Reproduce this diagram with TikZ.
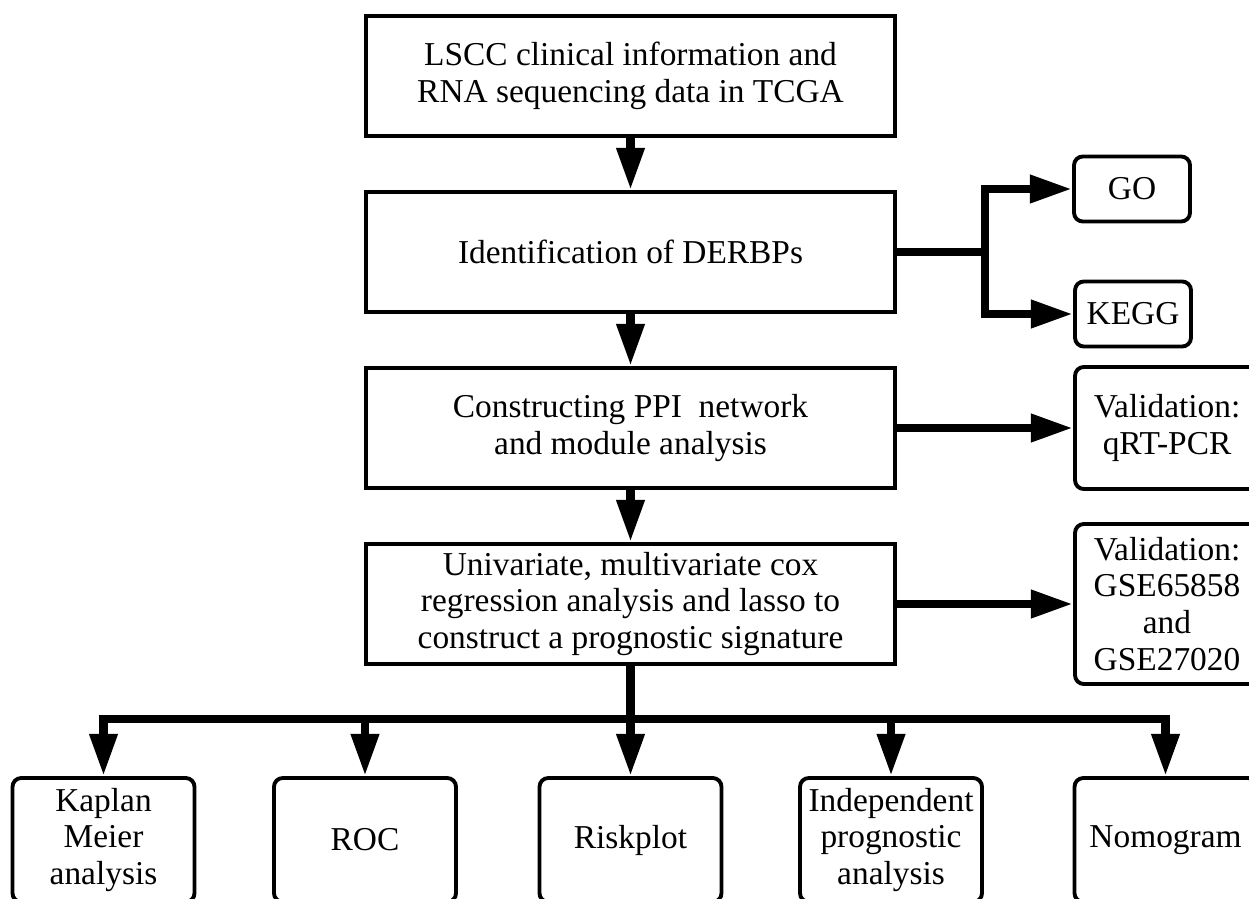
\documentclass[tikz,border=0pt]{standalone}
\usepackage{fontspec}
\setmainfont{Liberation Serif}
\usepackage{tikz}
\usetikzlibrary{
  positioning,
  arrows.meta
}
\tikzset{
  flowline/.style={line width=5pt},
  flowarrow/.style={-{Triangle[length=24pt,width=15pt]},line width=5pt},
  stepbox/.style={rectangle,draw,line width=2.2pt,minimum width=10.58cm,minimum height=2.4cm,align=center,inner sep=2pt,font=\fontsize{19}{21}\selectfont},
  sidebox/.style={rectangle,draw,rounded corners=5pt,line width=2.2pt,align=center,inner sep=2pt,font=\fontsize{19}{21}\selectfont},
  resultbox/.style={sidebox,minimum width=3.64cm,minimum height=2.48cm}
}

\begin{document}
\begin{tikzpicture}[node distance=3.52cm, on grid]
    \useasboundingbox (0,0) rectangle (24.98,-17.96);
    \clip (0,0) rectangle (24.98,-17.96);

    % main column
    \node[stepbox] (data) at (12.61,-1.52) {LSCC clinical information and\\RNA sequencing data in TCGA};
    \node[stepbox,below=of data] (derbp) {Identification of DERBPs};
    \node[stepbox,below=of derbp] (ppi) {Constructing PPI\ \ network\\and module analysis};
    \node[stepbox,below=of ppi] (cox) {Univariate, multivariate cox\\regression analysis and lasso to\\construct a prognostic signature};

    % side boxes
    \node[sidebox,minimum width=2.32cm,minimum height=1.3cm,right=10.03cm of derbp,yshift=1.26cm] (go) {GO};
    \node[sidebox,minimum width=2.32cm,minimum height=1.3cm,right=10.05cm of derbp,yshift=-1.24cm] (kegg) {KEGG};
    \node[sidebox,minimum width=3.68cm,minimum height=2.44cm,right=10.73cm of ppi] (pcr) {Validation:\\qRT-PCR};
    \node[sidebox,minimum width=3.68cm,minimum height=3.2cm,right=10.73cm of cox] (gse) {Validation:\\GSE65858\\and\\GSE27020};

    % results
    \node[resultbox,below=4.72cm of cox,xshift=-10.54cm] (km) {Kaplan\\Meier\\analysis};
    \node[resultbox,below=4.72cm of cox,xshift=-5.31cm] (roc) {ROC};
    \node[resultbox,below=4.72cm of cox] (risk) {Riskplot};
    \node[resultbox,below=4.72cm of cox,xshift=5.21cm] (indep) {Independent\\prognostic\\analysis};
    \node[resultbox,below=4.72cm of cox,xshift=10.7cm] (nomo) {Nomogram};

    \draw[flowarrow] (data) -- (derbp);
    \draw[flowarrow] (derbp) -- (ppi);
    \draw[flowarrow] (ppi) -- (cox);

    \draw[flowline] (derbp.east) -- ++(1.76,0) coordinate (fork);
    \draw[flowarrow] (fork) |- (go);
    \draw[flowarrow] (fork) |- (kegg);

    \draw[flowarrow] (ppi) -- (pcr);
    \draw[flowarrow] (cox) -- (gse);

    \draw[flowline] (cox.south) -- ++(0,-1.06) coordinate (bus);
    \foreach \r in {km,roc,risk,indep,nomo}
      \draw[flowarrow] (bus) -| (\r);
\end{tikzpicture}
\end{document}
